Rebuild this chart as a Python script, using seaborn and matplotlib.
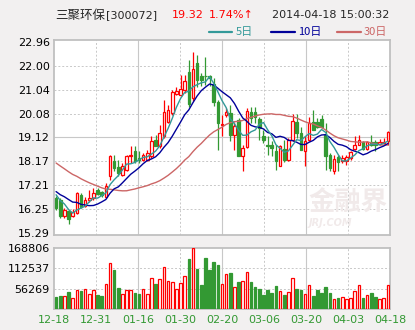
import numpy as np
import pandas as pd
import matplotlib
matplotlib.use("Agg")
import matplotlib.pyplot as plt
from matplotlib.lines import Line2D
import seaborn as sns

# ---------------- data ----------------
date_labels = ["12-18", "12-31", "01-16", "01-30", "02-20", "03-06", "03-20", "04-03", "04-18"]

opens = [16.71, 16.62, 15.95, 16.15, 15.95, 16.08, 16.82, 16.38, 16.62, 16.69,
         17.02, 16.95, 16.75, 17.56, 18.16, 17.92, 17.62, 17.82, 18.36, 18.56,
         18.29, 18.23, 18.23, 18.36, 19.03, 18.76, 19.16, 19.76, 20.10, 20.87,
         20.83, 21.03, 21.75, 20.70, 22.10, 21.57, 21.60, 21.60, 21.26, 20.56,
         19.62, 20.03, 20.10, 19.23, 19.83, 18.36, 18.73, 20.16, 20.16, 19.87,
         19.16, 18.83, 18.83, 18.56, 17.99, 18.66, 18.20, 19.03, 19.76, 19.30,
         18.56, 19.03, 19.76, 19.76, 19.86, 19.23, 18.40, 17.76, 18.33, 18.16,
         18.16, 18.29, 18.66, 18.83, 18.92, 18.66, 18.92, 18.92, 18.85, 18.88, 18.96]
closes = [16.29, 15.95, 16.22, 15.85, 16.11, 16.91, 16.33, 16.62, 16.71, 16.91,
          16.86, 16.82, 17.18, 18.36, 17.89, 17.69, 17.96, 18.36, 18.42, 18.16,
          18.23, 18.43, 18.49, 18.96, 18.76, 19.30, 20.16, 20.23, 20.96, 21.00,
          21.06, 21.39, 20.45, 21.87, 21.43, 21.43, 21.57, 21.50, 20.56, 19.70,
          19.68, 20.16, 19.23, 19.59, 18.36, 18.69, 20.20, 19.90, 19.96, 19.50,
          19.03, 18.76, 18.69, 18.16, 18.79, 18.23, 19.03, 19.80, 19.30, 18.63,
          18.96, 19.70, 19.43, 19.56, 19.56, 18.36, 17.89, 18.25, 18.12, 18.29,
          18.32, 18.52, 18.83, 19.00, 18.66, 18.92, 18.83, 18.83, 18.92, 18.95, 19.32]
highs = [16.78, 16.69, 16.29, 16.22, 16.25, 16.95, 16.89, 16.73, 17.02, 17.09,
         17.09, 16.98, 17.29, 18.43, 18.43, 18.23, 18.09, 18.43, 18.76, 18.76,
         18.56, 18.49, 18.63, 19.16, 19.23, 19.63, 20.63, 20.43, 21.03, 21.16,
         21.63, 21.63, 22.23, 22.57, 22.45, 21.70, 22.37, 21.62, 21.50, 20.63,
         20.03, 20.29, 20.43, 19.76, 19.90, 18.83, 20.29, 20.36, 20.36, 19.96,
         19.43, 19.16, 18.96, 18.83, 18.83, 19.03, 19.10, 20.06, 20.06, 19.56,
         19.16, 19.96, 20.23, 19.90, 20.03, 19.70, 18.49, 18.42, 18.43, 18.43,
         18.43, 18.56, 19.16, 19.23, 18.96, 18.96, 19.23, 19.03, 19.05, 19.10, 19.36]
lows = [16.22, 15.90, 15.89, 15.65, 15.93, 16.05, 16.29, 16.34, 16.55, 16.62,
        16.82, 16.75, 16.69, 17.40, 17.76, 17.56, 17.56, 17.76, 18.09, 18.09,
        18.09, 18.16, 18.16, 18.29, 18.76, 18.69, 19.10, 19.70, 20.03, 20.83,
        20.79, 20.90, 20.36, 20.60, 21.16, 21.20, 21.24, 21.20, 20.40, 18.63,
        19.16, 19.96, 18.96, 18.63, 18.36, 17.76, 18.69, 19.70, 19.70, 19.03,
        18.89, 18.43, 18.36, 17.83, 17.96, 18.12, 18.16, 18.99, 19.10, 18.63,
        17.96, 18.96, 19.43, 19.50, 19.50, 17.83, 17.76, 17.66, 17.76, 18.09,
        18.03, 18.23, 18.63, 18.83, 18.63, 18.63, 18.76, 18.56, 18.80, 18.85, 18.83]
volumes = [34000, 36000, 36000, 47000, 30000, 53000, 50000, 55000, 41000, 53000,
           39000, 36000, 69000, 127000, 108000, 59000, 42000, 53000, 53000, 45000,
           42000, 55000, 42000, 85000, 70000, 84000, 116000, 78000, 75000, 56000,
           71000, 92000, 139000, 168806, 111000, 66000, 142000, 108000, 131000, 122000,
           70000, 97000, 101000, 60000, 75000, 78000, 103000, 75000, 61000, 55000,
           39000, 53000, 45000, 64000, 50000, 39000, 47000, 85000, 55000, 53000,
           42000, 67000, 36000, 53000, 45000, 61000, 45000, 27000, 31000, 33000,
           27000, 30000, 50000, 67000, 31000, 39000, 45000, 34000, 28000, 30000, 67000]
# closes before 12-18 (not drawn, only feed the moving averages)
prior_closes = [19.50, 19.62, 19.40, 19.35, 19.20, 19.28, 19.10, 19.05, 18.95, 18.90,
                18.80, 18.70, 18.62, 18.55, 18.45, 18.40, 18.30, 17.30, 17.10, 16.80,
                17.20, 17.05, 16.95, 17.15, 17.04, 17.10, 16.90, 16.96, 16.85]

price_ticks = [22.96, 22.00, 21.04, 20.08, 19.12, 18.17, 17.21, 16.25, 15.29]
vol_ticks = [168806, 112537, 56269]

# ---------------- style ----------------
BG = "#F2F0F0"
GRID = "#C8C8C8"
BORDER = "#C0C0C0"
RED = "#FF0000"
GREEN = "#339933"
C5, C10, C30 = "#339999", "#000099", "#CC6666"

sns.set_theme(style="white")
plt.rcParams['font.family'] = ['DejaVu Sans', 'Noto Sans CJK SC']

n = len(closes)
df = pd.DataFrame({"x": np.arange(n), "open": opens, "close": closes,
                   "high": highs, "low": lows, "vol": volumes})
allc = pd.Series(prior_closes + closes)
for w in (5, 10, 30):
    df[f"ma{w}"] = allc.rolling(w).mean().iloc[len(prior_closes):].to_numpy()
df["up"] = df["close"] >= df["open"]

W, H = 415, 330
fig = plt.figure(figsize=(W / 100, H / 100), dpi=100, facecolor=BG)
ax = fig.add_axes([54 / W, 95 / H, 336 / W, 195 / H])
axv = fig.add_axes([54 / W, 21 / H, 336 / W, 61 / H])

xmin, xmax = -0.5, n - 0.5
grid_x = [xmin + k * (xmax - xmin) / 8 for k in range(9)]

for a in (ax, axv):
    a.set_facecolor("white")
    a.set_xlim(xmin, xmax)
    for s in a.spines.values():
        s.set_color(BORDER)
        s.set_linewidth(1.3)
    for k in range(1, 8):
        solid = (k % 2 == 0)
        a.axvline(grid_x[k], color=GRID, lw=0.8 if solid else 0.7,
                  ls="-" if solid else (0, (2, 2)), zorder=0.5)

# price panel
ax.set_ylim(15.29 - 2.1 / 24.9, 22.96 + 1.8 / 24.9)
for t in price_ticks[1:-1]:
    solid = abs(t - 19.12) < 1e-6
    ax.axhline(t, color=GRID, lw=0.8 if solid else 0.7,
               ls="-" if solid else (0, (2, 2)), zorder=0.5)

# watermark
fig.text(348 / W, 1 - 203 / H, "金融界", family=['Noto Sans CJK SC'], fontsize=19,
         fontweight='bold', color="#F1EAEA", ha="center", va="center", zorder=1)
fig.text(330 / W, 1 - 223 / H, "JRJ.COM", fontsize=7, fontweight='bold', style='italic',
         color="#F1EAEA", ha="center", va="center", zorder=1)

edge = np.where(df["up"], RED, GREEN)
face = np.where(df["up"], "white", GREEN)
ax.vlines(df["x"], df["low"], df["high"], colors=edge, lw=0.9, zorder=2)
body_lo = np.minimum(df["open"], df["close"])
body_h = np.maximum(np.abs(df["close"] - df["open"]), 0.025)
ax.bar(df["x"], body_h, bottom=body_lo, width=0.62, color=face,
       edgecolor=edge, linewidth=0.9, zorder=3)

sns.lineplot(data=df, x="x", y="ma30", ax=ax, color=C30, lw=1.0, zorder=4)
sns.lineplot(data=df, x="x", y="ma10", ax=ax, color=C10, lw=1.0, zorder=4)
sns.lineplot(data=df, x="x", y="ma5", ax=ax, color=C5, lw=1.0, zorder=4)
ax.set_xlabel("")
ax.set_ylabel("")
ax.set_xticks([])
ax.set_yticks(price_ticks)
ax.set_yticklabels([f"{t:.2f}" for t in price_ticks])
ax.tick_params(axis="y", length=0, pad=3, labelsize=8, labelcolor="black")

# volume panel
axv.set_ylim(0, 168806)
for t in vol_ticks[1:]:
    axv.axhline(t, color=GRID, lw=0.7, ls=(0, (2, 2)), zorder=0.5)
axv.bar(df["x"], df["vol"], width=0.62, color=face, edgecolor=edge,
        linewidth=0.9, zorder=3)
axv.set_yticks(vol_ticks)
axv.set_yticklabels([str(v) for v in vol_ticks])
axv.tick_params(axis="y", length=0, pad=3, labelsize=8, labelcolor="black")
axv.set_xticks(grid_x)
axv.set_xticklabels(date_labels)
axv.tick_params(axis="x", length=0, pad=4, labelsize=8, labelcolor=GREEN)
axv.set_xlabel("")
axv.set_ylabel("")

# header
def fy(py):
    return 1 - py / H

cjk = ['Noto Sans CJK SC', 'DejaVu Sans']
fig.text(55 / W, fy(15), "三聚环保", family=cjk, fontsize=9, ha="left", va="center")
fig.text(106 / W, fy(15), "[300072]", fontsize=8, ha="left", va="center")
fig.text(172 / W, fy(15), "19.32", fontsize=8, color=RED, ha="left", va="center")
fig.text(209 / W, fy(15), "1.74%↑", fontsize=8, color=RED, ha="left", va="center")
fig.text(389 / W, fy(15), "2014-04-18 15:00:32", fontsize=8, ha="right", va="center")

for (x1, x2, tx, lab, col) in [(209, 232, 236, "5日", C5), (271, 295, 298, "10日", C10),
                               (337, 361, 364, "30日", C30)]:
    fig.add_artist(Line2D([x1 / W, x2 / W], [fy(31.5), fy(31.5)], color=col, lw=1.6,
                          transform=fig.transFigure))
    fig.text(tx / W, fy(31.5), lab, family=cjk, fontsize=8, color=col, ha="left", va="center")

fig.savefig("out.png", dpi=100, facecolor=BG)
